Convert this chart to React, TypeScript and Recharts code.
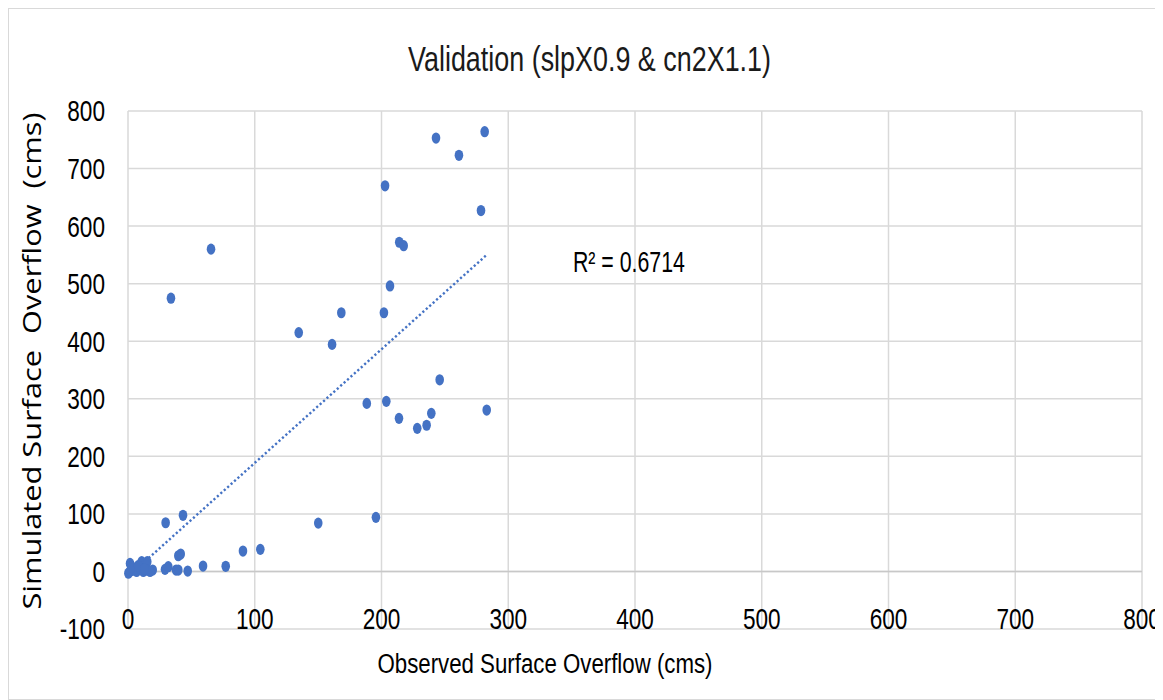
import React from 'react'
import {
  ScatterChart,
  Scatter,
  XAxis,
  YAxis,
  CartesianGrid,
  ReferenceLine,
  ReferenceDot,
} from 'recharts'

const observed = [
  243, 281.4, 261.1, 202.8, 278.5, 214, 217.5, 206.7, 168.3, 201.9, 134.7, 161,
  245.9, 188.4, 203.8, 213.8, 239.3, 235.6, 228.2, 283, 150.1, 195.6, 65.5, 33.9,
  29.7, 43.4, 39.7, 41.6, 59.2, 77.1, 90.7, 104.4, 47.1, 1.6, 1.6, 10.8, 15.2,
  19.5, 29.2, 31.8, 37.9, 39.7, 4.2, 6.8, 9.5, 12.1, 14.8, 17.4, 0.3, 2.9, 8, 13,
]
const simulated = [
  753, 764, 723, 670, 627, 572, 566, 496, 449.5, 449.5, 415, 394.5,
  333, 292, 295.5, 266, 274.7, 254, 248.6, 280.4, 84, 94, 560, 474.8,
  84.6, 97.5, 27.3, 30.2, 9.4, 8.9, 35.4, 38.4, 0.7, 14, 0, 16.9, 16.9,
  2.4, 3.6, 8.2, 2.4, 2.4, 2.4, 0, 5.4, 0, 2.4, 0, -3, 8.2, 10, 4,
]

// linear trendline ends, as drawn in the reference
const trendX = [0, 283]
const trendY = [-9, 550]

const xTicks = [0, 100, 200, 300, 400, 500, 600, 700, 800]
const yTicks = [-100, 0, 100, 200, 300, 400, 500, 600, 700, 800]

const rSquared = 'R² = 0.6714'

const points = observed.map((x, i) => ({ x, y: simulated[i] }))
const trend = trendX.map((x, i) => ({ x, y: trendY[i] }))

const FONT = '"Liberation Sans", Arial, sans-serif'
const BLUE = '#4472C4'
// the reference text is squeezed horizontally
const SQUEEZE = 0.78

const Dot = (props: any) => (
  <ellipse cx={props.cx} cy={props.cy} rx={4.3} ry={5.6} fill={BLUE} />
)

const XTick = ({ x, y, payload }: any) => (
  <g transform={`translate(${x},${y}) scale(${SQUEEZE},1)`}>
    <text x={0} y={0} textAnchor="middle" fontFamily={FONT} fontSize={29} fill="#000">
      {payload.value}
    </text>
  </g>
)

const YTick = ({ x, y, payload }: any) => (
  <g transform={`translate(${x},${y}) scale(${SQUEEZE},1)`}>
    <text x={0} y={0} dy="0.36em" textAnchor="end" fontFamily={FONT} fontSize={29} fill="#000">
      {payload.value}
    </text>
  </g>
)

export default function App() {
  return (
    <div style={{ position: 'relative', width: 1155, height: 692, boxShadow: 'inset 0 0 0 1px #d9d9d9' }}>
      <svg width={1155} height={90} style={{ position: 'absolute', left: 0, top: 0 }}>
        <text
          x={581.5}
          y={63}
          textAnchor="middle"
          fontFamily={FONT}
          fontSize={35}
          fill="#1a1a1a"
          textLength={363}
          lengthAdjust="spacingAndGlyphs"
        >
          Validation (slpX0.9 &amp; cn2X1.1)
        </text>
      </svg>
      <ScatterChart width={1155} height={690} margin={{ top: 103, right: 21, bottom: 0, left: 0 }}>
        <CartesianGrid stroke="#d9d9d9" strokeWidth={1.5} />
        <XAxis
          type="number"
          dataKey="x"
          domain={[0, 800]}
          ticks={xTicks}
          axisLine={false}
          tickLine={false}
          tickSize={0}
          tickMargin={0}
          height={69}
          tick={<XTick />}
          label={{
            content: (p: any) => (
              <text
                x={p.viewBox.x + 417}
                y={p.viewBox.y + 44}
                textAnchor="middle"
                fontFamily={FONT}
                fontSize={27}
                fill="#000"
                textLength={335}
                lengthAdjust="spacingAndGlyphs"
              >
                Observed  Surface Overflow (cms)
              </text>
            ),
          }}
        />
        <YAxis
          type="number"
          dataKey="y"
          domain={[-100, 800]}
          ticks={yTicks}
          axisLine={false}
          tickLine={false}
          tickSize={0}
          tickMargin={23}
          width={120}
          tick={<YTick />}
          label={{
            content: () => (
              <text
                transform="translate(24, 353) rotate(-90)"
                textAnchor="middle"
                dy="0.36em"
                fontFamily='"Open Sans", "Liberation Sans", sans-serif'
                fontSize={25}
                fill="#000"
                textLength={497}
                lengthAdjust="spacingAndGlyphs"
                style={{ whiteSpace: 'pre' }}
              >
                Simulated Surface  Overflow  (cms)
              </text>
            ),
          }}
        />
        <ReferenceLine y={0} stroke="#c8c8c8" strokeWidth={1.5} />
        <Scatter
          data={trend}
          line={{ stroke: BLUE, strokeWidth: 2.4, strokeDasharray: '2.2 2.4' }}
          shape={() => <g />}
          isAnimationActive={false}
        />
        <Scatter data={points} fill={BLUE} shape={Dot} isAnimationActive={false} />
        <ReferenceDot
          x={351}
          y={520}
          r={0}
          stroke="none"
          label={{
            content: (p: any) => (
              <text
                x={p.viewBox.x}
                y={p.viewBox.y}
                fontFamily={FONT}
                fontSize={29}
                fill="#000"
                textLength={112}
                lengthAdjust="spacingAndGlyphs"
              >
                {rSquared}
              </text>
            ),
          }}
        />
      </ScatterChart>
    </div>
  )
}
